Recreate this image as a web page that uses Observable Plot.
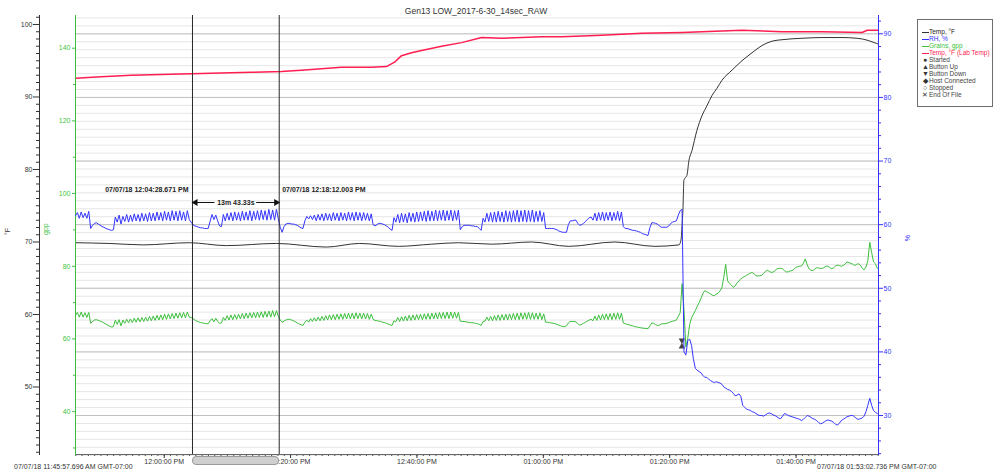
<!DOCTYPE html>
<html>
<head>
<meta charset="utf-8">
<script src="https://cdn.jsdelivr.net/npm/d3@7"></script>
<script src="https://cdn.jsdelivr.net/npm/@observablehq/plot@0.6"></script>
<style>
  body { margin: 0; background: #fff; font-family: 'Liberation Sans', Arial, sans-serif; }
  #wrap { position: relative; width: 1000px; height: 476px; overflow: hidden; background: #fff; }
  #wrap svg { position: absolute; left: 0; top: 0; }
  #title { position: absolute; left: 0; width: 952px; top: 6px; text-align: center; font-size: 8.5px; line-height: 10px; color: #333; }
  #legend { position: absolute; left: 917px; top: 19px; width: 76px; height: 88px; box-sizing: border-box; border: 1px solid #6e6e6e; background: #fff; padding: 8px 0 0 4px; font-size: 6.5px; }
  .li { height: 7px; line-height: 7px; white-space: nowrap; color: #444; }
  .sw { display: inline-block; width: 7px; height: 1.5px; vertical-align: middle; }
  .sy { display: inline-block; width: 6px; font-size: 7px; line-height: 7px; text-align: center; margin-right: 1px; color: #333; vertical-align: top; }
  .foot { position: absolute; top: 463px; font-size: 7px; line-height: 8px; color: #333; white-space: nowrap; }
  #scroll { position: absolute; top: 456px; height: 9px; box-sizing: border-box; border: 1px solid #9a9a9a; background: #cfcfcf; border-radius: 4px; }
</style>
</head>
<body>
<div id="wrap"><div id="title"></div></div>
<script>
// ---------------- data ----------------
const chartTitle = "Gen13 LOW_2017-6-30_14sec_RAW";
const startStamp = "11:45:57.696";           // first sample (minutes measured from 12:00 PM)
const endStamp = "13:53:02.736";             // last sample
const startLabel = "07/07/18 11:45:57.696 AM GMT-07:00";
const endLabel = "07/07/18 01:53:02.736 PM GMT-07:00";
const sampleStepMin = 0.3;                    // resampled grid for RH and grains

const rhPct = [
61.4,61.9,61.0,62.0,61.1,61.8,61.0,62.1,
59.4,59.9,60.2,60.3,60.1,59.9,59.7,59.6,59.4,59.3,59.2,59.1,59.2,
61.2,60.4,61.5,60.1,61.3,60.5,61.6,60.4,61.5,60.5,61.7,60.6,61.6,60.5,61.8,60.6,61.7,60.5,61.9,60.6,
61.8,60.6,62.0,60.7,61.9,60.6,62.1,60.7,62.0,60.6,62.2,60.7,62.1,60.6,62.2,60.7,62.0,60.6,62.2,60.8,
60.4,60.0,59.8,59.7,59.6,59.5,59.5,59.4,59.4,59.4,60.5,61.6,60.8,61.5,60.6,59.8,59.7,61.6,
60.6,61.8,60.7,61.9,60.6,62.0,60.7,61.9,60.6,62.1,60.7,62.0,60.7,62.2,60.6,62.1,60.8,62.2,60.7,62.3,60.8,62.2,60.7,62.4,60.8,62.3,60.7,62.4,60.9,
59.6,58.8,59.7,60.1,60.2,60.2,60.1,60.1,60.0,59.9,59.7,59.5,59.4,60.6,61.3,
60.9,61.4,60.8,61.5,60.6,61.6,60.7,61.7,60.6,61.8,60.7,61.7,60.6,61.9,60.7,61.8,60.6,61.9,60.7,61.8,60.6,62.0,60.7,61.9,60.6,62.0,60.7,61.9,60.6,61.9,60.7,61.8,60.6,61.7,
60.0,59.8,60.0,60.2,60.2,60.1,60.0,59.8,59.6,59.3,59.1,61.1,
60.4,61.6,60.3,61.8,60.4,61.7,60.3,61.9,60.5,61.8,60.4,62.0,60.5,62.0,60.6,62.1,60.5,62.2,60.6,62.1,60.6,62.3,60.6,62.2,60.7,62.3,60.6,62.2,60.7,62.3,60.6,62.2,60.7,62.3,
59.2,59.7,59.9,59.9,59.9,59.9,59.8,59.8,59.7,59.7,59.4,59.1,61.0,
60.4,61.8,60.5,61.9,60.4,62.0,60.4,62.1,60.5,62.0,60.4,62.2,60.5,62.1,60.4,62.2,60.5,62.3,60.4,62.2,60.5,62.3,60.4,62.2,60.5,62.3,60.4,62.1,60.5,62.2,60.5,61.9,
59.4,59.4,59.4,59.4,59.4,59.3,59.2,59.0,58.9,58.8,58.8,58.8,60.0,60.6,60.6,60.7,60.7,60.2,59.9,60.0,60.2,60.5,60.8,61.1,61.2,
60.7,61.8,60.6,61.9,60.7,62.0,60.6,61.9,60.7,62.0,60.6,61.9,60.7,62.1,60.6,62.0,
59.7,59.4,59.4,59.3,59.2,59.1,59.1,59.0,58.9,58.8,58.6,58.5,58.4,58.3,59.5,60.3,60.3,60.2,60.1,59.8,59.6,59.6,59.6,59.6,59.8,60.2,60.4,60.5,60.6,61.5,62.2,62.4,
40.0,39.5,41.8,42.0,41.0,38.8,37.4,37.1,36.9,36.7,36.3,36.0,
36.0,35.7,35.5,35.3,35.2,35.3,35.2,35.1,34.9,34.5,
34.3,34.1,34.0,33.8,33.5,33.1,33.2,33.4,33.0,31.6,
31.3,31.0,30.9,30.8,30.6,30.5,30.3,30.1,30.0,30.0,
29.9,30.1,30.3,30.4,30.3,30.1,30.0,29.8,29.6,29.5,
29.9,30.3,30.2,30.0,29.9,29.8,29.7,29.6,29.5,29.4,
29.2,29.4,29.7,30.0,29.9,29.7,29.5,29.4,29.2,28.9,
28.7,28.8,29.0,29.2,29.3,29.2,29.1,28.9,28.6,28.5,
28.8,29.2,29.4,29.6,29.8,29.9,30.0,30.0,29.8,29.5,
29.4,29.5,29.6,29.9,30.6,31.6,32.7,31.6,30.8,30.5,30.3
];

const grainsGpp = [
66.5,67.3,66.0,67.4,66.0,67.2,65.9,67.3,
64.3,64.8,65.2,65.3,65.1,64.9,64.7,64.4,64.1,63.8,63.5,63.3,63.4,
65.2,64.0,65.3,63.6,65.2,64.3,65.4,64.4,65.5,64.5,65.7,64.6,65.8,64.7,65.9,64.8,66.0,64.9,66.2,65.0,
66.3,65.1,66.5,65.2,66.6,65.3,66.8,65.4,66.9,65.5,67.0,65.6,67.1,65.7,67.2,65.8,67.3,65.8,67.4,66.0,
65.9,65.6,65.2,64.9,64.7,64.5,64.4,64.3,64.2,64.2,65.0,65.6,64.7,65.7,64.8,64.3,64.4,65.9,
65.1,66.4,65.2,66.6,65.3,66.7,65.4,66.8,65.5,67.0,65.6,67.1,65.7,67.2,65.8,67.3,65.8,67.4,65.9,67.5,65.9,67.6,66.0,67.7,66.0,67.8,66.1,67.8,66.2,
65.2,64.6,64.9,65.2,65.4,65.4,65.2,65.0,64.7,64.4,64.1,63.9,63.7,64.6,65.2,
64.6,65.6,64.8,65.8,64.9,66.0,65.0,66.2,65.1,66.4,65.2,66.6,65.3,66.7,65.3,66.8,65.4,66.9,65.4,67.0,65.5,67.1,65.5,67.1,65.5,67.2,65.6,67.1,65.5,67.1,65.5,67.0,65.4,66.8,
65.4,65.1,65.0,64.9,64.8,64.6,64.5,64.3,64.1,63.9,63.7,65.0,
64.7,65.9,64.8,66.1,64.9,66.3,65.0,66.5,65.1,66.6,65.2,66.7,65.3,66.8,65.3,66.9,65.4,67.0,65.4,67.1,65.5,67.2,65.5,67.3,65.6,67.3,65.6,67.4,65.6,67.4,65.7,67.4,65.7,67.3,
64.9,64.8,64.8,64.7,64.6,64.5,64.5,64.4,64.3,64.2,64.0,63.7,64.8,
64.9,66.0,65.0,66.2,65.0,66.4,65.1,66.6,65.1,66.7,65.2,66.8,65.2,66.9,65.3,67.0,65.3,67.1,65.3,67.2,65.4,67.2,65.4,67.3,65.4,67.2,65.4,67.1,65.4,67.2,65.3,66.9,
64.6,64.6,64.5,64.4,64.3,64.2,64.0,63.8,63.6,63.4,63.4,63.6,64.4,64.8,64.8,64.8,64.7,64.2,63.8,64.0,64.3,64.6,64.9,65.2,65.4,
65.0,66.3,65.1,66.6,65.2,66.8,65.3,66.9,65.3,67.0,65.3,67.1,65.4,67.2,65.4,67.1,
64.4,64.2,64.0,63.9,63.7,63.6,63.4,63.3,63.2,63.1,63.0,62.9,62.9,62.8,63.6,64.4,64.3,64.0,63.7,63.8,64.1,64.2,64.2,64.3,64.5,64.7,64.9,65.0,65.2,66.2,67.2,75.2,
68.0,57.8,60.2,64.0,65.8,66.8,67.8,69.0,70.0,71.2,72.5,73.3,73.0,72.7,72.4,72.0,71.9,72.3,72.6,73.2,74.1,77.0,80.5,76.0,75.3,74.8,74.2,74.6,75.4,76.0,76.5,76.9,
77.2,77.5,77.8,78.1,78.3,77.9,77.4,77.3,77.4,77.5,
78.0,78.6,78.9,78.6,78.3,78.4,78.8,79.3,79.4,79.4,
79.3,78.8,78.4,78.5,78.7,78.8,79.2,79.7,79.9,80.0,
80.1,80.8,82.0,80.4,79.3,78.9,78.8,79.2,79.6,79.5,
79.4,79.4,79.7,80.0,80.0,79.6,79.3,79.6,80.1,80.3,
80.2,80.0,80.2,80.6,81.2,81.0,80.8,80.6,80.2,80.5,
80.7,80.3,79.5,79.0,79.8,81.5,86.6,83.8,81.2,80.7,79.4
];

// Temp, °F (probe) – minutes after 12:00 PM and value
const tempMin = [-14.04,-8.72,-3.33,3.96,9.83,17.75,25.67,30.9,37.08,42.31,46.59,51.82,58.16,64.03,71.32,77.65,81.46,81.77,82.01,82.09,82.25,82.41,82.73,83.04,83.52,84.31,85.1,85.9,86.69,87.48,88.27,89.86,91.44,93.03,94.61,96.2,97.78,100.95,104.12,107.29,109.67,111.41,112.36,113.05];
const tempF = [69.9,69.8,69.6,69.9,69.5,69.8,69.3,69.8,69.4,69.7,69.9,69.7,70.0,69.4,70.0,69.4,69.6,70.2,73.0,74.3,78.5,78.8,79.2,81.2,82.6,85.4,87.4,88.8,90.2,91.2,92.3,93.7,95.0,96.1,97.1,97.7,97.9,98.1,98.2,98.2,98.1,97.8,97.5,97.3];

// Temp, °F (Lab Temp)
const labMin = [-14.04,-9.98,-5.23,-0.48,4.28,9.03,13.79,18.54,21.71,24.88,28.05,32.81,35.18,36.45,37.56,39.14,40.73,43.9,47.07,50.24,53.41,56.58,59.75,62.92,69.26,75.59,81.93,85.1,91.44,97.78,104.12,110.46,111.25,113.05];
const labF = [92.6,92.8,93.0,93.1,93.2,93.3,93.4,93.5,93.7,93.9,94.1,94.1,94.2,94.8,95.7,96.1,96.4,97.0,97.5,98.2,98.1,98.2,98.3,98.3,98.5,98.8,98.9,99.0,99.2,99.0,99.0,98.9,99.2,99.2];

// button events
const eventMin = [81.93, 81.93];
const eventGpp = [59.6, 57.9];
const eventKind = ["Button Down", "Button Up"];

// cursors
const cursorStamps = ["12:04:28.671", "12:18:12.003"];
const cursorLabels = ["07/07/18 12:04:28.671 PM", "07/07/18 12:18:12.003 PM"];
const spanLabel = "13m 43.33s";

// ticks
const xTickStamps = ["12:00:00", "12:20:00", "12:40:00", "13:00:00", "13:20:00", "13:40:00"];
const tempTicks = [50, 60, 70, 80, 90, 100];
const gppTicks = [40, 60, 80, 100, 120, 140];
const gppMinorTicks = [30, 50, 70, 90, 110, 130];
const rhTicks = [30, 40, 50, 60, 70, 80, 90];

// axis extents
const tempDomain = [40.69, 101.24];
const gppDomain = [28.2, 149.0];
const rhDomain = [23.87, 92.88];

const legendSeries = [
  {label: "Temp, °F", color: "#333333"},
  {label: "RH, %", color: "#3434ff"},
  {label: "Grains, gpp", color: "#3dbf3d"},
  {label: "Temp, °F (Lab Temp)", color: "#ff1e50"}
];
const legendEvents = [
  {label: "Started", sym: "●"},
  {label: "Button Up", sym: "▲"},
  {label: "Button Down", sym: "▼"},
  {label: "Host Connected", sym: "◆"},
  {label: "Stopped", sym: "○"},
  {label: "End Of File", sym: "✕"}
];

// ---------------- helpers ----------------
const BLACK = "#333333", BLUE = "#3434ff", GREEN = "#3dbf3d", GREEN_TXT = "#44c444", RED = "#ff1e50";
const FONT = "'Liberation Sans', Arial, sans-serif";
const base = Date.UTC(2018, 6, 7, 12, 0, 0);
const stampToMin = s => { const [h, m, sec] = s.split(":").map(Number); return (h - 12) * 60 + m + sec / 60; };
const atMin = m => new Date(base + Math.round(m * 60000));
const startMin = stampToMin(startStamp);
const endMin = stampToMin(endStamp);

const rhRows = rhPct.map((v, i) => ({t: atMin(startMin + i * sampleStepMin), v}));
const grainRows = grainsGpp.map((v, i) => ({t: atMin(startMin + i * sampleStepMin), v}));
const tempRows = tempMin.map((m, i) => ({t: atMin(Math.min(Math.max(m, startMin), endMin)), v: tempF[i]}));
const labRows = labMin.map((m, i) => ({t: atMin(Math.min(Math.max(m, startMin), endMin)), v: labF[i]}));
const eventRows = eventMin.map((m, i) => ({t: atMin(m), v: eventGpp[i], kind: eventKind[i]}));
const cursorMin = cursorStamps.map(stampToMin);
const cursorRows = cursorMin.map((m, i) => ({t: atMin(m), label: cursorLabels[i]}));
const midMin = (cursorMin[0] + cursorMin[1]) / 2;
const gapMin = 3.3;
const shafts = [{x1: atMin(cursorMin[0]), x2: atMin(midMin - gapMin)}, {x1: atMin(midMin + gapMin), x2: atMin(cursorMin[1])}];

const xMajor = xTickStamps.map(s => atMin(stampToMin(s)));
const xMinor = d3.utcMinute.range(atMin(startMin), atMin(endMin));
const tempMinor = d3.range(41, 102).filter(v => v % 10 !== 0);
const rhMinor = d3.range(24, 93, 2).filter(v => v % 10 !== 0);
const rhGrid = d3.range(23.75, 92.6, 1.25);

const common = {
  width: 1000, height: 476,
  marginTop: 15, marginRight: 122, marginBottom: 22, marginLeft: 75,
  style: {background: "transparent", fontFamily: FONT, fontSize: "7px", overflow: "visible"}
};
const xScale = {type: "utc", domain: [atMin(startMin), atMin(endMin)]};

const wrap = document.getElementById("wrap");
document.getElementById("title").textContent = chartTitle;

// grid layer (RH scale)
const gridLayer = Plot.plot({
  ...common,
  y: {domain: rhDomain, axis: null},
  marks: [
    Plot.ruleY(rhGrid, {stroke: "#e6e6e6"}),
    Plot.ruleY(rhTicks, {stroke: "#c2c2c2"})
  ]
});

// °F axis (outer left)
const tempAxisLayer = Plot.plot({
  ...common,
  marginLeft: 39,
  y: {domain: tempDomain},
  marks: [
    Plot.frame({anchor: "left", stroke: BLACK}),
    Plot.axisY({ticks: tempMinor, anchor: "left", tickSize: 3, text: null, stroke: BLACK, label: null}),
    Plot.axisY({ticks: tempTicks, anchor: "left", tickSize: 6, tickPadding: 1, label: null, color: BLACK, fontSize: 7}),
    Plot.text(["°F"], {frameAnchor: "left", dx: -32, rotate: -90, fill: BLACK, fontSize: 7})
  ]
});

// main layer: temperatures + time axis
const mainLayer = Plot.plot({
  ...common,
  x: xScale,
  y: {domain: tempDomain, axis: null},
  marks: [
    Plot.axisX({ticks: xMinor, tickSize: 2, text: null, stroke: "#555", label: null}),
    Plot.axisX({ticks: xMajor, tickSize: 4, tickPadding: 1, tickFormat: d3.utcFormat("%I:%M:%S %p"), label: null, color: "#333", fontSize: 7}),
    Plot.frame({anchor: "bottom", stroke: "#666"}),
    Plot.line(labRows, {x: "t", y: "v", stroke: RED, strokeWidth: 1.5}),
    Plot.line(tempRows, {x: "t", y: "v", stroke: BLACK, strokeWidth: 1, curve: "monotone-x"})
  ]
});

// grains layer
const gppLayer = Plot.plot({
  ...common,
  x: {...xScale, axis: null},
  y: {domain: gppDomain},
  marks: [
    Plot.frame({anchor: "left", stroke: GREEN}),
    Plot.axisY({ticks: gppMinorTicks, anchor: "left", tickSize: 2, text: null, stroke: GREEN, label: null}),
    Plot.axisY({ticks: gppTicks, anchor: "left", tickSize: 3, tickPadding: 2, label: null, color: GREEN_TXT, fontSize: 7}),
    Plot.text(["gpp"], {frameAnchor: "left", dx: -30, rotate: -90, fill: GREEN_TXT, fontSize: 7}),
    Plot.line(grainRows, {x: "t", y: "v", stroke: GREEN, strokeWidth: 1}),
    Plot.dot(eventRows, {x: "t", y: "v", symbol: "triangle", rotate: d => d.kind === "Button Down" ? 180 : 0, fill: "#444", r: 2.4})
  ]
});

// RH layer
const rhLayer = Plot.plot({
  ...common,
  x: {...xScale, axis: null},
  y: {domain: rhDomain},
  marks: [
    Plot.frame({anchor: "right", stroke: BLUE}),
    Plot.axisY({ticks: rhMinor, anchor: "right", tickSize: 2, text: null, stroke: BLUE, label: null}),
    Plot.axisY({ticks: rhTicks, anchor: "right", tickSize: 4, tickPadding: 1, label: null, color: BLUE, fontSize: 7}),
    Plot.text(["%"], {frameAnchor: "right", dx: 29, rotate: -90, fill: BLUE, fontSize: 7}),
    Plot.line(rhRows, {x: "t", y: "v", stroke: BLUE, strokeWidth: 1})
  ]
});

// cursor annotations
const annoLayer = Plot.plot({
  ...common,
  x: {...xScale, axis: null},
  marks: [
    Plot.ruleX(cursorRows, {x: "t", stroke: "#2a2a2a", strokeWidth: 1}),
    Plot.text([cursorRows[0]], {x: "t", text: "label", frameAnchor: "middle", dy: -45.5, dx: -4, textAnchor: "end", fontSize: 7, fontWeight: "bold", fill: "#222"}),
    Plot.text([cursorRows[1]], {x: "t", text: "label", frameAnchor: "middle", dy: -45.5, dx: 3, textAnchor: "start", fontSize: 7, fontWeight: "bold", fill: "#222"}),
    Plot.ruleY(shafts, {y: null, x1: "x1", x2: "x2", dy: -32.5, stroke: "#111"}),
    Plot.dot([cursorRows[0]], {x: "t", frameAnchor: "middle", dy: -32.5, dx: 3, symbol: "triangle", rotate: -90, r: 2.6, fill: "#111"}),
    Plot.dot([cursorRows[1]], {x: "t", frameAnchor: "middle", dy: -32.5, dx: -3, symbol: "triangle", rotate: 90, r: 2.6, fill: "#111"}),
    Plot.text([spanLabel], {x: atMin(midMin), text: d => d, frameAnchor: "middle", dy: -32.5, fontSize: 7, fontWeight: "bold", fill: "#222"})
  ]
});

[gridLayer, tempAxisLayer, mainLayer, gppLayer, rhLayer, annoLayer].forEach(s => wrap.appendChild(s));

// scrollbar thumb spanning the cursors (positions from Plot's x scale)
const sx = mainLayer.scale("x");
const thumb = document.createElement("div");
thumb.id = "scroll";
const xa = sx.apply(atMin(cursorMin[0])), xb = sx.apply(atMin(cursorMin[1]));
thumb.style.left = xa + "px";
thumb.style.width = (xb - xa) + "px";
wrap.appendChild(thumb);

// footer labels
const f1 = document.createElement("div"); f1.className = "foot"; f1.style.left = "14px"; f1.textContent = startLabel; wrap.appendChild(f1);
const f2 = document.createElement("div"); f2.className = "foot"; f2.style.left = "817px"; f2.textContent = endLabel; wrap.appendChild(f2);

// legend
const lg = document.createElement("div"); lg.id = "legend";
legendSeries.forEach(d => {
  const r = document.createElement("div"); r.className = "li";
  const sw = document.createElement("span"); sw.className = "sw"; sw.style.background = d.color;
  const tx = document.createElement("span"); tx.textContent = d.label; tx.style.color = d.color === BLACK ? "#222" : d.color;
  r.appendChild(sw); r.appendChild(tx); lg.appendChild(r);
});
legendEvents.forEach(d => {
  const r = document.createElement("div"); r.className = "li";
  const sy = document.createElement("span"); sy.className = "sy"; sy.textContent = d.sym;
  const tx = document.createElement("span"); tx.textContent = d.label;
  r.appendChild(sy); r.appendChild(tx); lg.appendChild(r);
});
wrap.appendChild(lg);
</script>
</body>
</html>
